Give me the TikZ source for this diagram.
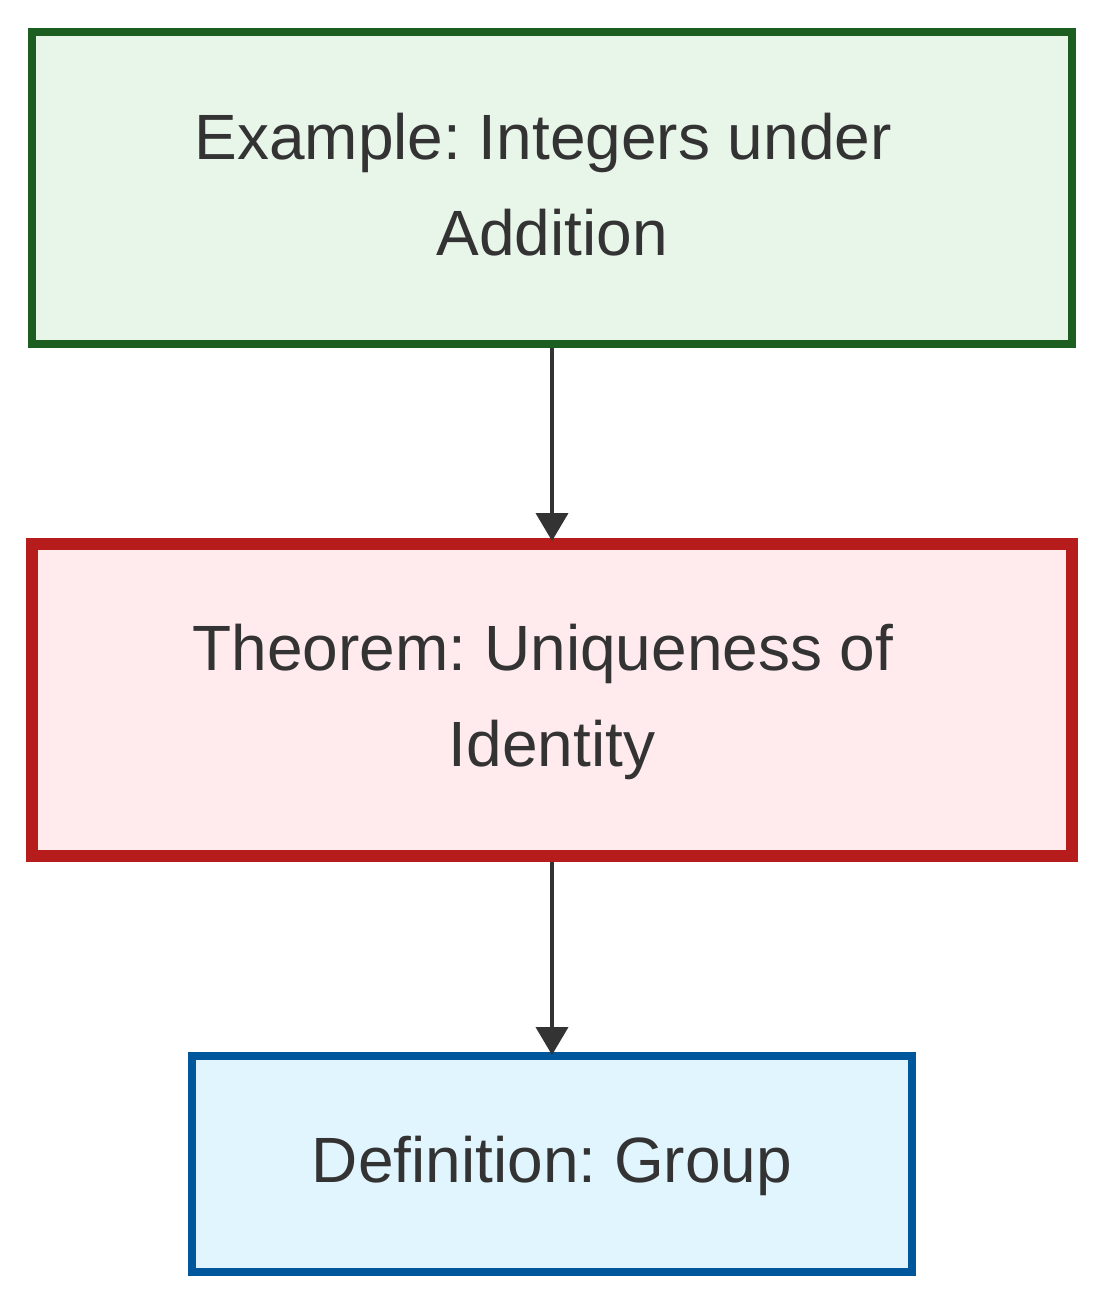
\documentclass[tikz,border=0pt]{standalone}
\usepackage{fontspec}
\setmainfont{Liberation Sans}
\usetikzlibrary{arrows.meta}
\definecolor{txt}{HTML}{333333}
\definecolor{gstroke}{HTML}{1B5E20}
\definecolor{gfill}{HTML}{E8F5E9}
\definecolor{rstroke}{HTML}{B71C1C}
\definecolor{rfill}{HTML}{FFEBEE}
\definecolor{bstroke}{HTML}{01579B}
\definecolor{bfill}{HTML}{E1F5FE}
\tikzset{
  box/.style={draw, rectangle, inner sep=0pt},
  lbl/.style={inner sep=0pt, align=center, text=txt,
    font=\fontsize{64}{96}\selectfont\frenchspacing},
  examplebox/.style={box, draw=gstroke, fill=gfill, line width=8pt,
    minimum width=1040pt, minimum height=312pt},
  theorembox/.style={box, draw=rstroke, fill=rfill, line width=12pt,
    minimum width=1040pt, minimum height=312pt},
  defbox/.style={box, draw=bstroke, fill=bfill, line width=8pt,
    minimum width=720pt, minimum height=216pt},
  link/.style={draw=txt, line width=4pt, shorten >=-3pt,
    -{Triangle[length=28pt,width=32pt]}}
}
\begin{document}
\begin{tikzpicture}[x=1pt,y=-1pt]
\useasboundingbox (0,0) rectangle (1104,1304);
\node[examplebox] (ex) at (552,188) {};
\node[lbl] (exl) at (552,184.7) {Example: Integers under\kern17.8pt\\Addition};
\node[theorembox] (th) at (552,700) {};
\node[lbl] (thl) at (552,702.3) {Theorem: Uniqueness of\kern17.8pt\\Identity};
\node[defbox] (def) at (552,1164) {};
\node[lbl] (defl) at (552,1166.3) {Definition: Group};
\draw[link] (ex.south) -- (th.north);
\draw[link] (th.south) -- (def.north);
\end{tikzpicture}
\end{document}
